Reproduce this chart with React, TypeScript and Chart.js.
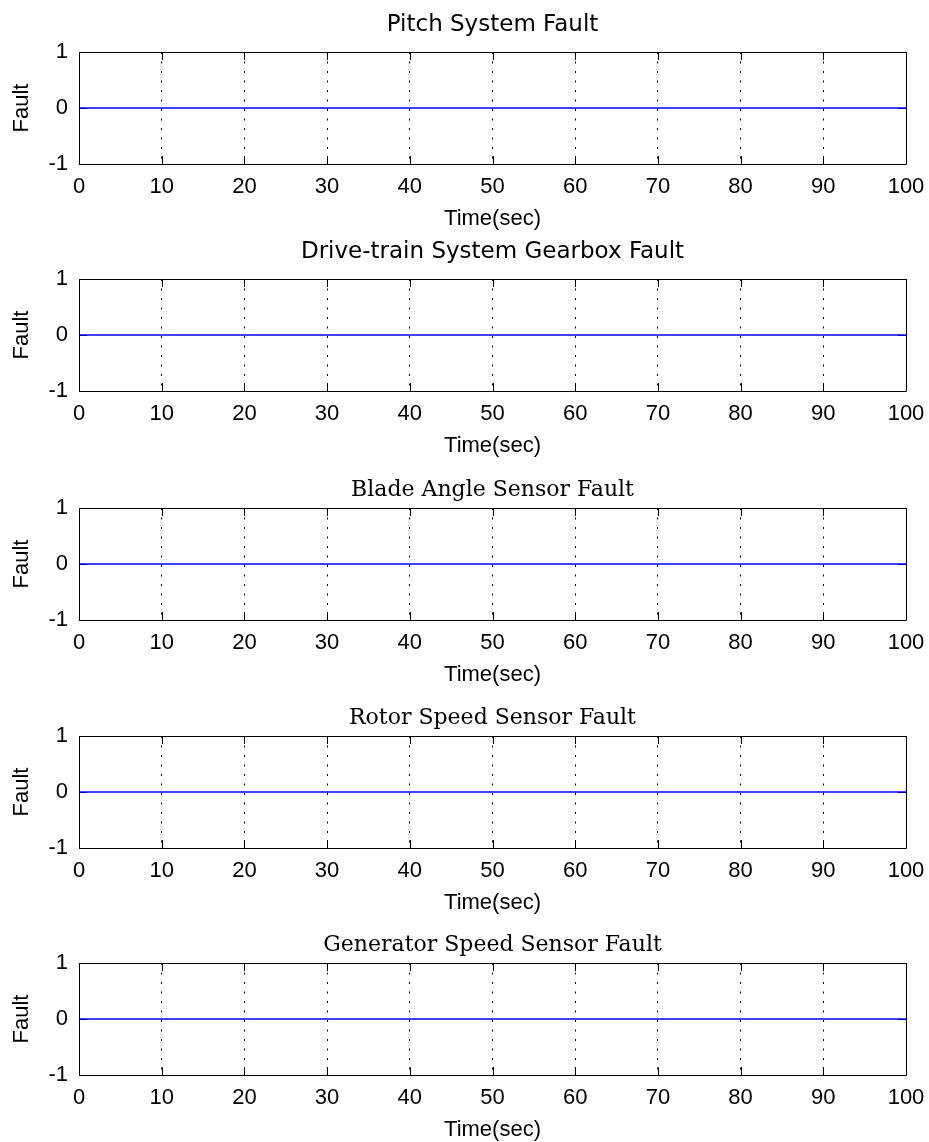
import React, { useEffect, useRef } from "react";
import { Chart, registerables } from "chart.js";

Chart.register(...registerables);

// ---- data ----
const timeSec = [0, 10, 20, 30, 40, 50, 60, 70, 80, 90, 100];
const pitchFault = [0, 0, 0, 0, 0, 0, 0, 0, 0, 0, 0];
const gearboxFault = [0, 0, 0, 0, 0, 0, 0, 0, 0, 0, 0];
const bladeAngleFault = [0, 0, 0, 0, 0, 0, 0, 0, 0, 0, 0];
const rotorSpeedFault = [0, 0, 0, 0, 0, 0, 0, 0, 0, 0, 0];
const generatorSpeedFault = [0, 0, 0, 0, 0, 0, 0, 0, 0, 0, 0];

const panelTitles = [
  "Pitch System Fault",
  "Drive-train System Gearbox Fault",
  "Blade Angle Sensor Fault",
  "Rotor Speed Sensor Fault",
  "Generator Speed Sensor Fault",
];
const panelSeries = [pitchFault, gearboxFault, bladeAngleFault, rotorSpeedFault, generatorSpeedFault];
const serifTitle = [false, false, true, true, true];

const xAxisLabel = "Time(sec)";
const yAxisLabel = "Fault";
const xMin = 0;
const xMax = 100;
const xStep = 10;
const yMin = -1;
const yMax = 1;
const yStep = 1;

// ---- layout ----
const plotTops = [52, 279, 508, 736, 963];
const CANVAS_W = 929;
const CANVAS_H = 232;
const AREA_TOP = 52; // chart area top inside each canvas
const AREA_H = 112;
const AREA_LEFT = 79;
const AREA_RIGHT = 906;

const SANS = "'Liberation Sans', Arial, sans-serif";
const TITLE_SANS = "'DejaVu Sans', sans-serif";
const TITLE_SERIF = "'DejaVu Serif', serif";

const frame = {
  id: "frame",
  beforeDatasetsDraw(chart: any) {
    const { ctx, chartArea: a, scales } = chart;
    const L = 8;
    ctx.save();
    ctx.setLineDash([]);
    ctx.strokeStyle = "#000";
    ctx.lineWidth = 1;
    ctx.beginPath();
    for (const t of scales.x.ticks) {
      const px = Math.round(scales.x.getPixelForValue(t.value)) + 0.5;
      ctx.moveTo(px, a.top);
      ctx.lineTo(px, a.top + L);
      ctx.moveTo(px, a.bottom);
      ctx.lineTo(px, a.bottom - L);
    }
    for (const t of scales.y.ticks) {
      const py = Math.round(scales.y.getPixelForValue(t.value)) + 0.5;
      ctx.moveTo(a.left, py);
      ctx.lineTo(a.left + L, py);
      ctx.moveTo(a.right, py);
      ctx.lineTo(a.right - L, py);
    }
    ctx.stroke();
    ctx.restore();
  },
  afterDatasetsDraw(chart: any) {
    const { ctx, chartArea: a } = chart;
    ctx.save();
    ctx.setLineDash([]);
    ctx.strokeStyle = "#000";
    ctx.lineWidth = 1;
    const l = Math.round(a.left) + 0.5;
    const r = Math.round(a.right) + 0.5;
    const t = Math.round(a.top) + 0.5;
    const b = Math.round(a.bottom) + 0.5;
    ctx.beginPath();
    ctx.moveTo(l, t);
    ctx.lineTo(r, t);
    ctx.lineTo(r, b);
    ctx.lineTo(l, b);
    ctx.closePath();
    ctx.stroke();
    ctx.restore();
  },
};

function Panel({ index }: { index: number }) {
  const ref = useRef<HTMLCanvasElement | null>(null);
  useEffect(() => {
    const canvas = ref.current;
    if (!canvas) return;
    const serif = serifTitle[index];
    const titleSize = serif ? 22 : 23;
    const titleLH = titleSize * 1.2;
    const titleMid = serif ? 34 : 25;
    const padTop = titleMid - titleLH / 2;
    const padBottom = AREA_TOP - padTop - titleLH;
    const chart = new Chart(canvas, {
      type: "line",
      data: {
        labels: timeSec,
        datasets: [
          {
            data: timeSec.map((t, i) => ({ x: t, y: panelSeries[index][i] })),
            borderColor: "#0000ff",
            borderWidth: 1.5,
            pointRadius: 0,
            fill: false,
            tension: 0,
          },
        ],
      },
      options: {
        animation: false,
        responsive: false,
        devicePixelRatio: 1,
        layout: { padding: { left: 0, right: CANVAS_W - AREA_RIGHT, top: 0, bottom: 0 } },
        plugins: {
          legend: { display: false },
          tooltip: { enabled: false },
          title: {
            display: true,
            fullSize: false,
            text: panelTitles[index],
            color: "#000",
            font: { family: serif ? TITLE_SERIF : TITLE_SANS, size: titleSize, weight: "normal", lineHeight: 1.2 },
            padding: { top: padTop, bottom: padBottom },
          },
        },
        scales: {
          x: {
            type: "linear",
            min: xMin,
            max: xMax,
            ticks: {
              stepSize: xStep,
              color: "#000",
              font: { family: SANS, size: 22 },
              padding: 10,
              maxRotation: 0,
              autoSkip: false,
            },
            grid: {
              display: true,
              drawTicks: false,
              lineWidth: 1,
              color: (c: any) =>
                c.tick && (c.tick.value === xMin || c.tick.value === xMax) ? "rgba(0,0,0,0)" : "#000",
            },
            border: { display: false, dash: [2, 7.5] },
            title: {
              display: true,
              text: xAxisLabel,
              color: "#000",
              font: { family: SANS, size: 22, lineHeight: 1.2 },
              padding: { top: 0, bottom: 0 },
            },
            afterFit: (s: any) => {
              s.height = CANVAS_H - AREA_TOP - AREA_H;
              s.paddingLeft = 0;
              s.paddingRight = 0;
            },
          },
          y: {
            type: "linear",
            min: yMin,
            max: yMax,
            ticks: {
              stepSize: yStep,
              color: "#000",
              font: { family: SANS, size: 22 },
              padding: 11,
            },
            grid: { display: false, drawTicks: false },
            border: { display: false },
            title: {
              display: true,
              text: yAxisLabel,
              color: "#000",
              font: { family: SANS, size: 22, lineHeight: 1.2 },
              padding: { top: 9, bottom: 0 },
            },
            afterFit: (s: any) => {
              s.width = AREA_LEFT;
              s.paddingTop = 0;
              s.paddingBottom = 0;
            },
          },
        },
      } as any,
      plugins: [frame],
    });
    return () => chart.destroy();
  }, [index]);

  return (
    <canvas
      ref={ref}
      width={CANVAS_W}
      height={CANVAS_H}
      style={{
        position: "absolute",
        left: 0,
        top: plotTops[index] - AREA_TOP,
        width: CANVAS_W,
        height: CANVAS_H,
        display: "block",
      }}
    />
  );
}

export default function App() {
  return (
    <div
      style={{
        position: "absolute",
        left: 0,
        top: 0,
        width: CANVAS_W,
        height: 1142,
        background: "#fff",
      }}
    >
      {panelTitles.map((_, i) => (
        <Panel key={i} index={i} />
      ))}
    </div>
  );
}
